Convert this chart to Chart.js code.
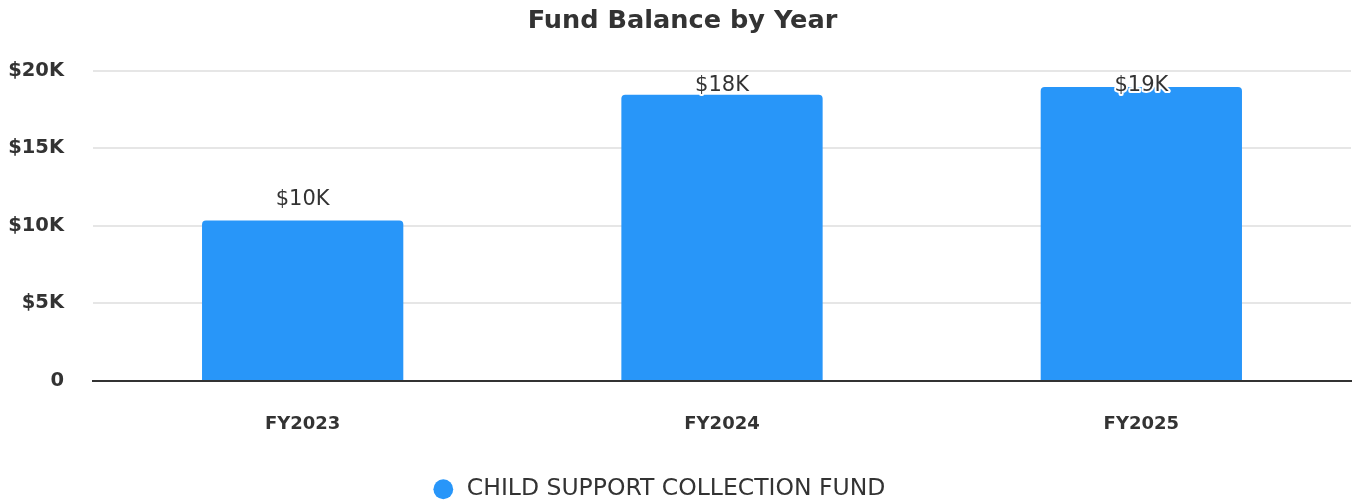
<!DOCTYPE html>
<html>
<head>
<meta charset="utf-8">
<script src="https://cdn.jsdelivr.net/npm/chart.js@4"></script>
<style>
html,body{margin:0;padding:0;background:#fff;}
#wrap{width:1355px;height:504px;position:relative;}
</style>
</head>
<body>
<div id="wrap"><canvas id="c"></canvas></div>
<script>
const categories = ['FY2023', 'FY2024', 'FY2025'];
const seriesName = 'CHILD SUPPORT COLLECTION FUND';
const fundBalance = [10350, 18450, 18950];
const dataLabels = ['$10K', '$18K', '$19K'];
const yTicks = [0, 5000, 10000, 15000, 20000];
const yTickLabels = ['0', '$5K', '$10K', '$15K', '$20K'];

const FONT = "'DejaVu Sans', sans-serif";
const TXT = '#333333';
const BLUE = '#2896F9';

const labelPlugin = {
  id: 'barLabels',
  afterDatasetsDraw(chart) {
    const ctx = chart.ctx;
    const meta = chart.getDatasetMeta(0);
    const area = chart.chartArea;
    ctx.save();
    ctx.font = "400 21px " + FONT;
    ctx.textAlign = 'center';
    ctx.textBaseline = 'middle';
    ctx.lineJoin = 'round';
    meta.data.forEach((bar, i) => {
      let y = bar.y - 21;
      if (y < area.top + 15) y = area.top + 15;
      ctx.strokeStyle = '#ffffff';
      ctx.lineWidth = 4;
      ctx.strokeText(dataLabels[i], bar.x, y);
      ctx.fillStyle = TXT;
      ctx.fillText(dataLabels[i], bar.x, y);
    });
    ctx.restore();
  }
};

const shiftPlugin = {
  id: 'shiftBoxes',
  afterLayout(chart) {
    if (chart.legend) { chart.legend.left -= 17; chart.legend.right -= 17; }
    if (chart.titleBlock) { chart.titleBlock.left += 7; chart.titleBlock.right += 7; }
  }
};

new Chart(document.getElementById('c'), {
  type: 'bar',
  data: {
    labels: categories,
    datasets: [{
      label: seriesName,
      data: fundBalance,
      backgroundColor: BLUE,
      borderRadius: {topLeft: 4, topRight: 4, bottomLeft: 0, bottomRight: 0},
      borderSkipped: 'bottom',
      barPercentage: 0.48,
      categoryPercentage: 1.0
    }]
  },
  options: {
    responsive: true,
    maintainAspectRatio: false,
    animation: false,
    layout: {padding: {left: 0, right: 4, top: 0, bottom: -7}},
    plugins: {
      title: {
        display: true,
        text: 'Fund Balance by Year',
        color: TXT,
        font: {family: FONT, size: 25.6, weight: '700'},
        padding: {top: 6, bottom: 34}
      },
      legend: {
        position: 'bottom',
        labels: {
          usePointStyle: true,
          pointStyle: 'circle',
          boxWidth: 24,
          boxHeight: 14,
          color: TXT,
          font: {family: FONT, size: 23.5, weight: '400'},
          padding: 9
        }
      },
      tooltip: {enabled: false}
    },
    scales: {
      x: {
        grid: {display: false, drawTicks: false},
        border: {display: true, color: '#333333', width: 2},
        ticks: {color: TXT, font: {family: FONT, size: 18, weight: '700'}, padding: 33}
      },
      y: {
        min: 0, max: 20000,
        afterBuildTicks(axis) { axis.ticks = yTicks.map(v => ({value: v})); },
        afterFit(axis) { axis.width = 93; },
        grid: {color: '#e6e6e6', lineWidth: 2, drawTicks: false},
        border: {display: false},
        ticks: {
          color: TXT,
          font: {family: FONT, size: 19.5, weight: '700'},
          padding: 29,
          callback: (v) => yTickLabels[yTicks.indexOf(v)]
        }
      }
    }
  },
  plugins: [labelPlugin, shiftPlugin]
});
</script>
</body>
</html>
